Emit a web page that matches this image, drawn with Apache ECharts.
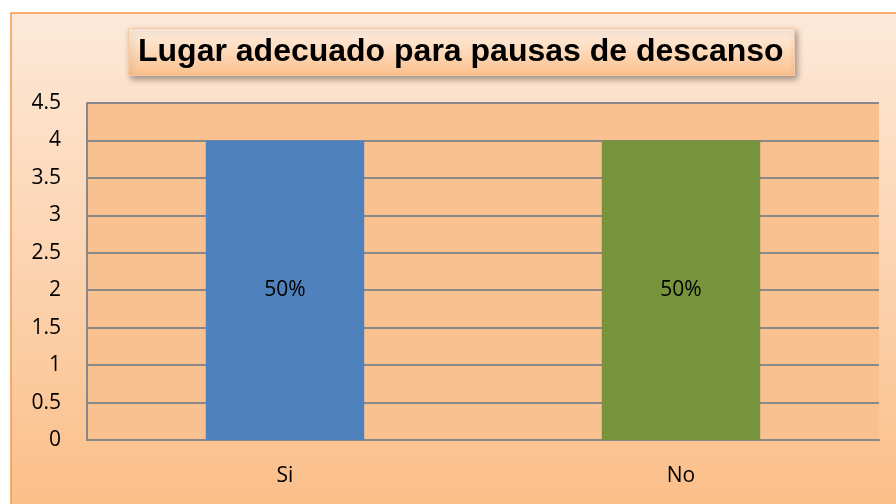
<!DOCTYPE html>
<html>
<head>
<meta charset="utf-8">
<script src="https://cdn.jsdelivr.net/npm/echarts@6/dist/echarts.min.js"></script>
<style>
  html, body { margin: 0; padding: 0; background: #fff; }
  #chart { width: 896px; height: 504px; }
</style>
</head>
<body>
<div id="chart"></div>
<script>
var categories = ['Si', 'No'];
var values = [4, 4];
var percents = ['50%', '50%'];
var barColors = ['#4F81BD', '#77933C'];
var yTicks = { min: 0, max: 4.5, interval: 0.5 };

var labelFont = 'Open Sans';

var chart = echarts.init(document.getElementById('chart'));

chart.setOption({
    animation: false,
    graphic: [{
        type: 'rect',
        z: -10,
        silent: true,
        shape: { x: 11, y: 13, width: 900, height: 500 },
        style: {
            fill: new echarts.graphic.LinearGradient(0, 0, 0, 1, [
                { offset: 0, color: '#FDE9D9' },
                { offset: 1, color: '#FBBE88' }
            ]),
            stroke: '#F79646',
            lineWidth: 1.5
        }
    }],
    title: {
        text: 'Lugar adecuado para pausas de descanso',
        left: 128,
        top: 28,
        padding: [8, 11, 8, 10],
        backgroundColor: new echarts.graphic.LinearGradient(0, 0, 0, 1, [
            { offset: 0, color: '#FEF0E4' },
            { offset: 1, color: '#FBC08C' }
        ]),
        borderColor: '#F5C9A4',
        borderWidth: 1,
        shadowBlur: 6,
        shadowColor: 'rgba(0,0,0,0.35)',
        shadowOffsetX: 2,
        shadowOffsetY: 3,
        textStyle: {
            fontFamily: 'Liberation Sans',
            fontWeight: 'bold',
            fontSize: 32,
            lineHeight: 32,
            color: '#000'
        }
    },
    grid: {
        left: 87,
        right: 17,
        top: 103,
        bottom: 64,
        show: true,
        backgroundColor: '#F9C090',
        borderWidth: 0
    },
    xAxis: {
        type: 'category',
        data: categories,
        axisLine: { show: true, lineStyle: { color: '#888', width: 2 } },
        axisTick: { show: false },
        axisLabel: {
            margin: 26,
            fontFamily: labelFont,
            fontSize: 21,
            color: '#000'
        }
    },
    yAxis: {
        type: 'value',
        min: yTicks.min,
        max: yTicks.max,
        interval: yTicks.interval,
        axisLine: { show: true, lineStyle: { color: '#888', width: 2 } },
        axisTick: { show: false },
        splitLine: { lineStyle: { color: '#888', width: 2 } },
        axisLabel: {
            margin: 26,
            fontFamily: labelFont,
            fontSize: 21,
            color: '#000'
        }
    },
    series: [{
        type: 'bar',
        barWidth: '40%',
        data: values.map(function (v, i) {
            return { value: v, itemStyle: { color: barColors[i] } };
        }),
        label: {
            show: true,
            position: 'inside',
            fontFamily: labelFont,
            fontSize: 21,
            color: '#000',
            formatter: function (p) { return percents[p.dataIndex]; }
        }
    }]
});
</script>
</body>
</html>
